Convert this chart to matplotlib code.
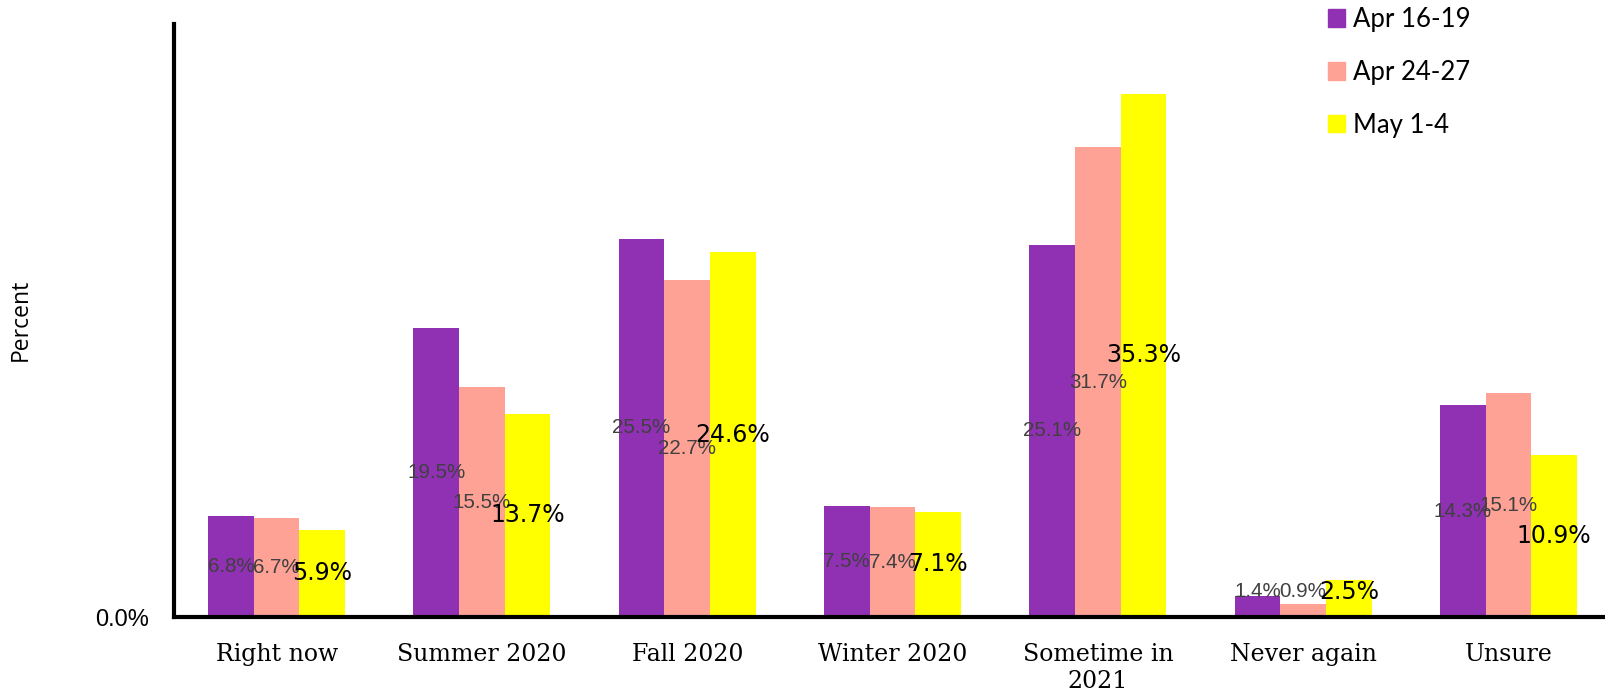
import matplotlib
matplotlib.use("Agg")
import matplotlib.pyplot as plt
import matplotlib.patches as mpatches
import numpy as np

categories = ["Right now", "Summer 2020", "Fall 2020", "Winter 2020",
              "Sometime in\n2021", "Never again", "Unsure"]
series_names = ["Apr 16-19", "Apr 24-27", "May 1-4"]
apr16_19 = [6.8, 19.5, 25.5, 7.5, 25.1, 1.4, 14.3]
apr24_27 = [6.7, 15.5, 22.7, 7.4, 31.7, 0.9, 15.1]
may1_4 = [5.9, 13.7, 24.6, 7.1, 35.3, 2.5, 10.9]
series = [apr16_19, apr24_27, may1_4]
colors = ["#9030B2", "#FFA296", "#FFFF00"]

W, H = 1606, 696
fig = plt.figure(figsize=(W / 100, H / 100), dpi=100)
ax = fig.add_axes([174 / W, 1 - 617 / H, 7 * 205.3 / W, (617 - 24) / H])

x = np.arange(len(categories))
bw = 0.2225
for i, (vals, col) in enumerate(zip(series, colors)):
    pos = x + (i - 1) * bw
    ax.bar(pos, vals, width=bw, color=col, zorder=2)
    for xp, v in zip(pos, vals):
        ylab = max(v / 2, 1.7)
        if i < 2:
            ax.text(xp, ylab, f"{v:.1f}%", ha="center", va="center",
                    fontsize=14.8, color="#404040", family="Liberation Sans", zorder=3)
        else:
            ax.text(xp, ylab, f"{v:.1f}%", ha="center", va="center",
                    fontsize=17, color="black", family="DejaVu Sans", zorder=3)

ax.set_xlim(-0.5, 6.5)
ax.set_ylim(0, 40)
ax.set_xticks(x)
ax.set_xticklabels(categories, fontsize=17, family="DejaVu Serif")
ax.set_yticks([0])
ax.set_yticklabels(["0.0%"], fontsize=17, family="Liberation Sans")
ax.tick_params(axis="both", length=0)
ax.tick_params(axis="x", pad=19)
ax.tick_params(axis="y", pad=18)
for s in ["top", "right"]:
    ax.spines[s].set_visible(False)
for s in ["left", "bottom"]:
    ax.spines[s].set_linewidth(3)
    ax.spines[s].set_color("black")

fig.text(21 / W, 1 - 320 / H, "Percent", rotation=90, ha="center", va="center",
         fontsize=16.5, family="Open Sans")

handles = [mpatches.Patch(color=c, label=n) for c, n in zip(colors, series_names)]
fig.legend(handles=handles, loc="upper left", bbox_to_anchor=(1328 / W, 1 - 7 / H),
           frameon=False, prop={"family": "Lato", "size": 18.5},
           handlelength=0.68, handleheight=0.68, handletextpad=0.3,
           labelspacing=1.08, borderpad=0, borderaxespad=0)

fig.savefig("out.png", dpi=100)
